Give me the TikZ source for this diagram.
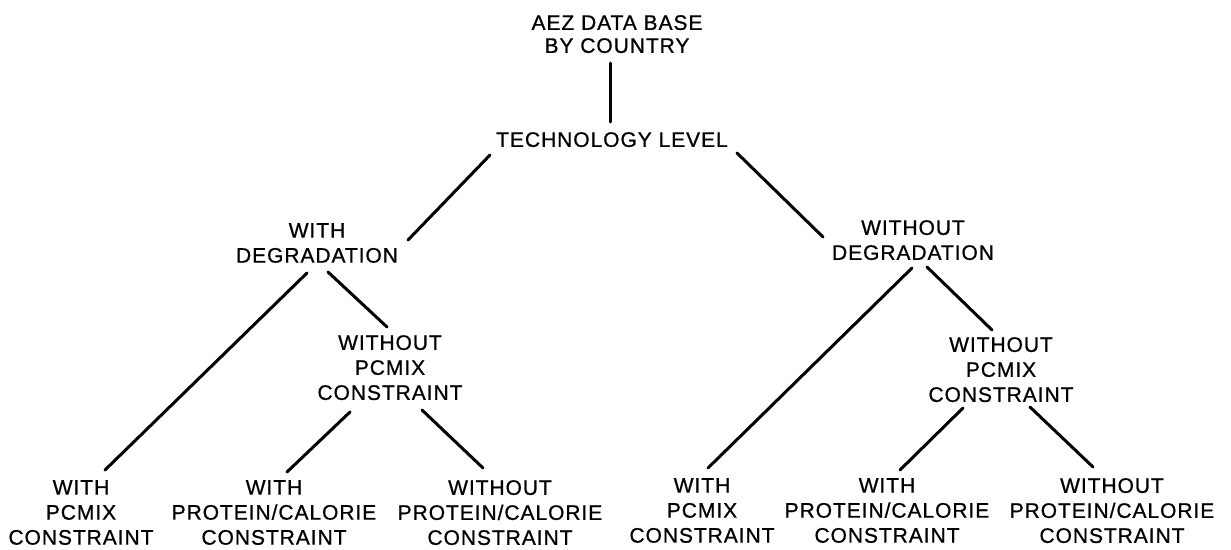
\documentclass[tikz,border=0pt]{standalone}
\usepackage{fontspec}
\setmainfont{Liberation Sans}[LetterSpace=4.5,FakeBold=0.8]
\usetikzlibrary{calc}
\begin{document}
\begin{tikzpicture}[x=1pt,y=-1pt,
  lbl/.style={anchor=north,inner sep=0pt,align=center,font=\fontsize{21}{25}\selectfont},
  conn/.style={line width=3pt,line cap=round}]
\useasboundingbox[fill=white] (0,0) rectangle (1231,549);
\node[lbl,font=\fontsize{21}{23}\selectfont] (top) at (617,15) {AEZ DATA BASE\\BY COUNTRY};
\node[lbl] (tech) at (612,132) {TECHNOLOGY LEVEL};
\node[lbl] (wdeg) at (317,223) {WITH\\DEGRADATION};
\node[lbl] (wodeg) at (913,220) {WITHOUT\\DEGRADATION};
\node[lbl] (lmid) at (390,335) {WITHOUT\\PCMIX\\CONSTRAINT};
\node[lbl] (rmid) at (1001,337) {WITHOUT\\PCMIX\\CONSTRAINT};
\node[lbl] (b1) at (81,480) {WITH\\PCMIX\\CONSTRAINT};
\node[lbl] (b2) at (274,480) {WITH\\PROTEIN/CALORIE\\CONSTRAINT};
\node[lbl] (b3) at (500,480) {WITHOUT\\PROTEIN/CALORIE\\CONSTRAINT};
\node[lbl] (b4) at (702,478) {WITH\\PCMIX\\CONSTRAINT};
\node[lbl] (b5) at (887,478) {WITH\\PROTEIN/CALORIE\\CONSTRAINT};
\node[lbl] (b6) at (1112,478) {WITHOUT\\PROTEIN/CALORIE\\CONSTRAINT};
\draw[conn] ($(top.north)+(-7,48)$) -- ($(tech.north)+(-2,-10)$);
\draw[conn] ($(tech.north)+(-122,23)$) -- ($(wdeg.north)+(91,17)$);
\draw[conn] ($(tech.north)+(125,21)$) -- ($(wodeg.north)+(-90,17)$);
\draw[conn] ($(wdeg.north)+(-10,50)$) -- ($(b1.north)+(24,-10)$);
\draw[conn] ($(wdeg.north)+(11,49)$) -- ($(lmid.north)+(-3,-8)$);
\draw[conn] ($(lmid.north)+(-40,77)$) -- ($(b2.north)+(13,-8)$);
\draw[conn] ($(lmid.north)+(32,75)$) -- ($(b3.north)+(-17,-12)$);
\draw[conn] ($(wodeg.north)+(-1,48)$) -- ($(b4.north)+(6,-10)$);
\draw[conn] ($(wodeg.north)+(14,47)$) -- ($(rmid.north)+(-9,-7)$);
\draw[conn] ($(rmid.north)+(-38,71)$) -- ($(b5.north)+(13,-8)$);
\draw[conn] ($(rmid.north)+(29,70)$) -- ($(b6.north)+(-19,-11)$);
\end{tikzpicture}
\end{document}
